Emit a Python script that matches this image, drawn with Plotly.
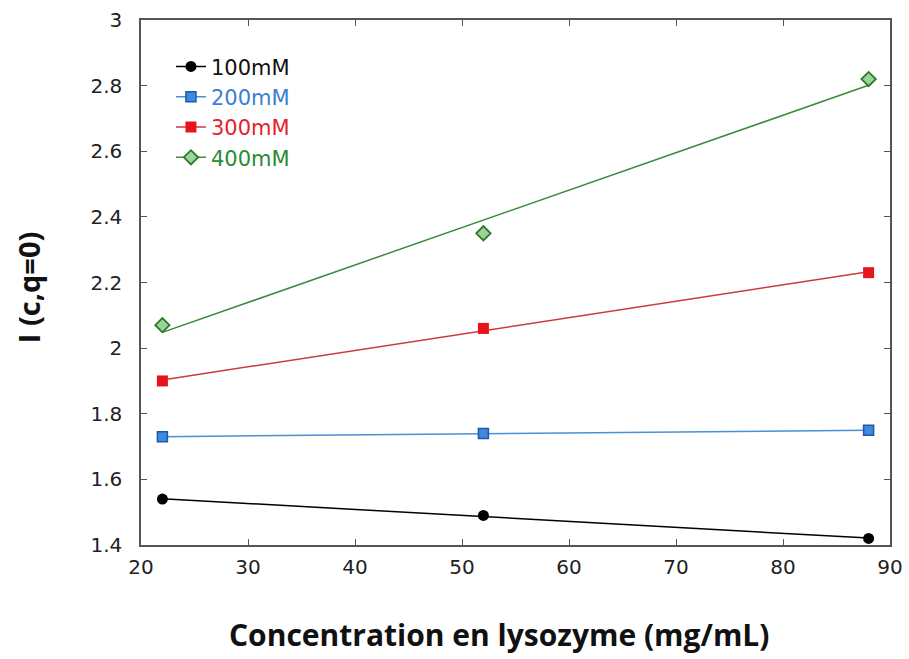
import plotly.graph_objects as go

conc = [22, 52, 88]
series_names = ["100mM", "200mM", "300mM", "400mM"]
y100 = [1.54, 1.49, 1.42]
y200 = [1.73, 1.74, 1.75]
y300 = [1.90, 2.06, 2.23]
y400 = [2.07, 2.35, 2.82]

# fitted trend line endpoints
fit_x = [22, 88]
fit100 = [1.541, 1.421]
fit200 = [1.730, 1.750]
fit300 = [1.903, 2.233]
fit400 = [2.048, 2.801]

text_colors = ["#111111", "#3a80d2", "#e3222b", "#2a8c32"]
line_colors = ["#000000", "#4a90d4", "#cc3a40", "#3c8a3c"]
markers = [
    dict(symbol="circle", size=11, color="#000000"),
    dict(symbol="square", size=10, color="#3f8ae0", line=dict(color="#1a5aa8", width=1.5)),
    dict(symbol="square", size=11, color="#e8141c"),
    dict(symbol="diamond", size=11, color="#9bd49b", line=dict(color="#2a7a2a", width=1.8)),
]
ys = [y100, y200, y300, y400]
fits = [fit100, fit200, fit300, fit400]

fig = go.Figure()
for name, y, f, tc, lc, m in zip(series_names, ys, fits, text_colors, line_colors, markers):
    fig.add_trace(go.Scatter(x=fit_x, y=f, mode="lines", line=dict(color=lc, width=1.5),
                             showlegend=False, hoverinfo="skip"))
    fig.add_trace(go.Scatter(x=conc, y=y, mode="markers", name=name, marker=m,
                             showlegend=False))
    fig.add_trace(go.Scatter(x=[None], y=[None], mode="lines+markers",
                             name=f"<span style='color:{tc}'>{name}</span>",
                             line=dict(color=lc, width=1.5), marker=m))

fig.update_layout(
    width=909, height=659,
    margin=dict(l=141, r=19, t=20, b=114),
    paper_bgcolor="white", plot_bgcolor="white",
    font=dict(family="DejaVu Sans, Arial, sans-serif", size=20, color="#222222"),
    legend=dict(x=0.04, y=0.95, xanchor="left", yanchor="top", bgcolor="rgba(0,0,0,0)",
                font=dict(size=21), itemwidth=30, tracegroupgap=0),
    showlegend=True,
    annotations=[
        dict(text="<b>Concentration en lysozyme (mg/mL)</b>", xref="paper", yref="paper",
             x=0.478, y=-0.170, xanchor="center", yanchor="middle", showarrow=False,
             font=dict(family="Open Sans, sans-serif", size=30, color="#111111")),
        dict(text="<b>I (c,q=0)</b>", xref="paper", yref="paper", textangle=-90,
             x=-0.151, y=0.491, xanchor="center", yanchor="middle", showarrow=False,
             font=dict(family="Open Sans, sans-serif", size=29, color="#111111")),
    ],
)
fig.update_xaxes(range=[20, 90], tickvals=[20, 30, 40, 50, 60, 70, 80, 90],
                 ticks="inside", ticklen=6, tickcolor="#555", showline=True, linecolor="#555",
                 linewidth=1.5, mirror="ticks", showgrid=False, zeroline=False,
                 automargin=False, ticklabelstandoff=3, tickfont=dict(size=20))
fig.update_yaxes(range=[1.4, 3.0], tickvals=[1.4, 1.6, 1.8, 2.0, 2.2, 2.4, 2.6, 2.8, 3.0],
                 ticktext=["1.4", "1.6", "1.8", "2", "2.2", "2.4", "2.6", "2.8", "3"],
                 ticks="inside", ticklen=6, tickcolor="#555", showline=True, linecolor="#555",
                 linewidth=1.5, mirror="ticks", showgrid=False, zeroline=False,
                 automargin=False, ticklabelstandoff=13, tickfont=dict(size=20))

fig.write_html("out.html", config={"displayModeBar": False},
               post_script="document.body.style.margin='0px';document.body.style.padding='0px';")
